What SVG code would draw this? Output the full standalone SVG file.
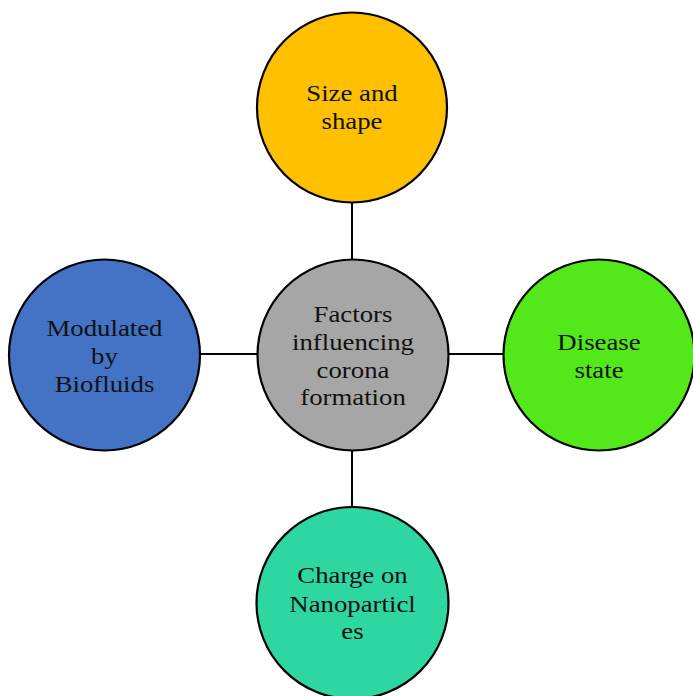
<svg xmlns="http://www.w3.org/2000/svg" width="693" height="696" viewBox="0 0 693 696">
<style>
.n{stroke:#000;stroke-width:2.2}
.t{font-family:"Liberation Serif","Times New Roman",serif;font-size:23.5px;fill:#111;text-anchor:middle}
.c{stroke:#000;stroke-width:2;fill:none}
</style>
<rect width="693" height="696" fill="#fff"/>
<g id="connectors">
<line class="c" x1="352" y1="202" x2="352" y2="260"/>
<line class="c" x1="352" y1="450" x2="352" y2="508"/>
<line class="c" x1="200" y1="354" x2="258" y2="354"/>
<line class="c" x1="448" y1="354" x2="506" y2="354"/>
</g>
<g id="top">
<circle class="n" cx="352" cy="107.5" r="95" fill="#FFC000"/>
<g transform="matrix(1.14 0 0 1 352 0)"><text class="t" x="0" y="101">Size and</text><text class="t" x="0" y="129">shape</text></g>
</g>
<g id="center">
<circle class="n" cx="353" cy="355" r="95.5" fill="#A6A6A6"/>
<g transform="matrix(1.14 0 0 1 353 0)"><text class="t" x="0" y="322">Factors</text><text class="t" x="0" y="350">influencing</text><text class="t" x="0" y="378">corona</text><text class="t" x="0" y="405">formation</text></g>
</g>
<g id="left">
<circle class="n" cx="104.5" cy="355" r="95.5" fill="#4472C4"/>
<g transform="matrix(1.14 0 0 1 104.5 0)"><text class="t" x="0" y="336">Modulated</text><text class="t" x="0" y="364">by</text><text class="t" x="0" y="392">Biofluids</text></g>
</g>
<g id="right">
<circle class="n" cx="599" cy="355" r="95.5" fill="#52E81A"/>
<g transform="matrix(1.14 0 0 1 599 0)"><text class="t" x="0" y="350">Disease</text><text class="t" x="0" y="378">state</text></g>
</g>
<g id="bottom">
<circle class="n" cx="352.5" cy="603" r="96" fill="#2ED6A2"/>
<g transform="matrix(1.14 0 0 1 352.5 0)"><text class="t" x="0" y="583">Charge on</text><text class="t" x="0" y="612">Nanoparticl</text><text class="t" x="0" y="639">es</text></g>
</g>
</svg>
